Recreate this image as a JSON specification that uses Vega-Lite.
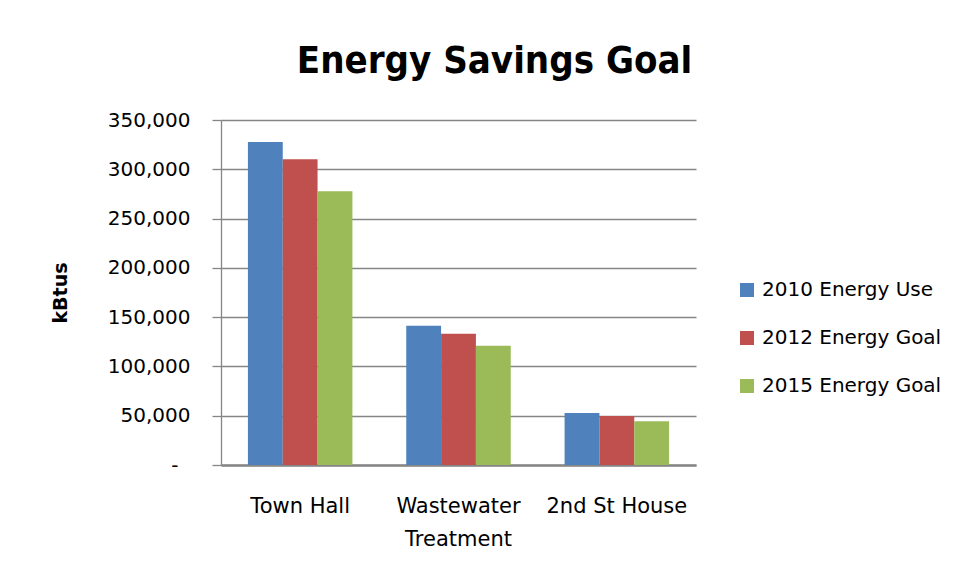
{
  "$schema": "https://vega.github.io/schema/vega-lite/v6.json",
  "autosize": {"type": "none"},
  "padding": {"left": 221, "top": 120, "right": 272, "bottom": 113},
  "width": 475,
  "height": 345,
  "background": "white",
  "title": {
    "text": "Energy Savings Goal",
    "font": "DejaVu Sans Condensed, Roboto, sans-serif",
    "fontSize": 38,
    "fontWeight": "bold",
    "color": "#000000",
    "anchor": "middle",
    "frame": "group",
    "dx": 36,
    "offset": 29
  },
  "data": {
    "values": [
      {"building": "Town Hall", "series": "2010 Energy Use", "value": 327600},
      {"building": "Town Hall", "series": "2012 Energy Goal", "value": 310300},
      {"building": "Town Hall", "series": "2015 Energy Goal", "value": 277700},
      {"building": "Wastewater Treatment", "series": "2010 Energy Use", "value": 141200},
      {"building": "Wastewater Treatment", "series": "2012 Energy Goal", "value": 133100},
      {"building": "Wastewater Treatment", "series": "2015 Energy Goal", "value": 120900},
      {"building": "2nd St House", "series": "2010 Energy Use", "value": 52700},
      {"building": "2nd St House", "series": "2012 Energy Goal", "value": 49600},
      {"building": "2nd St House", "series": "2015 Energy Goal", "value": 44500}
    ]
  },
  "mark": {"type": "bar"},
  "encoding": {
    "x": {
      "field": "building",
      "type": "nominal",
      "sort": ["Town Hall", "Wastewater Treatment", "2nd St House"],
      "scale": {"paddingInner": 0.34, "paddingOuter": 0.17},
      "axis": {
        "title": null,
        "ticks": false,
        "labelAngle": 0,
        "labelFont": "DejaVu Sans",
        "labelFontSize": 21,
        "labelColor": "#000000",
        "labelPadding": 30,
        "labelLineHeight": 33,
        "labelExpr": "datum.label == 'Wastewater Treatment' ? ['Wastewater', 'Treatment'] : datum.label",
        "domainColor": "#868686",
        "domainWidth": 2.5,
        "grid": false
      }
    },
    "xOffset": {
      "field": "series",
      "type": "nominal",
      "scale": {"paddingInner": 0, "paddingOuter": 0}
    },
    "y": {
      "field": "value",
      "type": "quantitative",
      "scale": {"domain": [0, 350000], "nice": false},
      "axis": {
        "title": "kBtus",
        "titleFont": "DejaVu Sans",
        "titleFontSize": 19,
        "titleFontWeight": "bold",
        "titleColor": "#000000",
        "titleAngle": 270,
        "titleAlign": "center",
        "titleBaseline": "middle",
        "titleX": -161,
        "titleY": 172.5,
        "values": [0, 50000, 100000, 150000, 200000, 250000, 300000, 350000],
        "labelExpr": "datum.value == 0 ? '-' : format(datum.value, ',')",
        "labelFont": "DejaVu Sans",
        "labelFontSize": 20,
        "labelColor": "#000000",
        "labelPadding": {"condition": {"test": "datum.value == 0", "value": 34}, "value": 22},
        "tickSize": 9,
        "tickColor": "#868686",
        "tickWidth": 1.3,
        "domainColor": "#868686",
        "domainWidth": 1.3,
        "grid": true,
        "gridColor": "#868686",
        "gridWidth": 1.3
      }
    },
    "color": {
      "field": "series",
      "type": "nominal",
      "scale": {
        "domain": ["2010 Energy Use", "2012 Energy Goal", "2015 Energy Goal"],
        "range": ["#4F81BD", "#C0504D", "#9BBB59"]
      },
      "legend": {
        "title": null,
        "orient": "none",
        "legendX": 516,
        "legendY": 160,
        "symbolType": "square",
        "symbolSize": 196,
        "symbolStrokeWidth": 0,
        "labelFont": "DejaVu Sans",
        "labelFontSize": 20,
        "labelColor": "#000000",
        "labelOffset": 5,
        "rowPadding": 28,
        "labelLimit": 300
      }
    }
  },
  "config": {
    "view": {"stroke": null}
  }
}
